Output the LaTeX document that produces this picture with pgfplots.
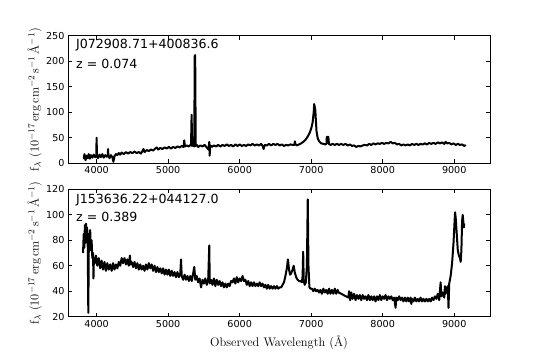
\documentclass[border=0pt]{standalone}
\usepackage{fontspec}
\usepackage{pgfplots}
\usepackage{pgfplotstable}
\pgfplotsset{compat=1.18}
\newfontfamily\dejavu{DejaVu Sans}

% J072908.71+400836.6, z = 0.074
\pgfplotstableread{
lam flux
3820 8
3830 18
3845 6
3860 15
3875 10
3890 18
3905 9
3920 16
3940 11
3960 17
3980 12
3995 14
4000 50
4005 14
4020 10
4040 17
4060 12
4080 18
4100 11
4120 16
4140 13
4155 15
4160 28
4165 14
4180 10
4200 16
4220 12
4235 3
4250 14
4270 18
4290 16
4310 20
4330 17
4350 21
4380 18
4410 22
4440 19
4470 22
4500 20
4530 23
4560 20
4590 22
4620 19
4640 24
4655 28
4670 22
4700 26
4730 24
4760 27
4790 25
4820 29
4840 31
4860 27
4890 30
4920 28
4950 31
4980 29
5010 32
5040 29
5070 32
5100 30
5130 33
5160 31
5190 34
5215 32
5225 45
5235 33
5260 35
5290 33
5310 36
5320 35
5328 95
5336 34
5350 36
5365 33
5372 210
5378 212
5386 34
5400 36
5420 32
5450 35
5480 33
5510 36
5540 31
5565 27
5575 42
5580 15
5590 35
5610 32
5640 35
5670 33
5700 36
5730 33
5760 36
5790 34
5820 37
5850 34
5880 36
5910 33
5940 37
5970 34
6000 37
6030 34
6060 36
6090 34
6120 37
6150 35
6180 38
6210 35
6240 37
6270 35
6300 38
6320 34
6335 28
6350 36
6380 35
6410 38
6440 35
6470 38
6500 36
6530 38
6560 35
6590 37
6620 34
6650 36
6680 35
6710 37
6740 36
6765 36
6772 43
6780 37
6800 35
6830 37
6860 39
6890 42
6920 46
6950 52
6980 60
7000 68
7020 80
7035 100
7042 116
7050 110
7058 104
7065 85
7075 62
7090 50
7110 43
7140 39
7170 38
7200 37
7215 39
7218 52
7240 52
7248 38
7270 36
7300 38
7330 36
7360 38
7390 36
7420 38
7450 36
7480 38
7510 35
7540 37
7570 34
7600 35
7630 32
7660 34
7690 33
7720 35
7750 36
7780 35
7810 38
7840 36
7870 39
7900 37
7930 39
7960 38
7990 40
8020 38
8050 40
8080 39
8110 42
8140 39
8170 40
8200 37
8230 38
8260 35
8290 37
8320 35
8350 37
8380 35
8410 38
8440 36
8470 38
8500 36
8530 38
8560 37
8590 39
8620 37
8650 40
8680 38
8710 40
8740 38
8770 41
8800 39
8830 41
8860 38
8880 42
8900 39
8930 40
8960 37
8990 39
9020 36
9050 38
9080 36
9110 37
9140 34
9160 36
}\topspec

% J153636.22+044127.0, z = 0.389
\pgfplotstableread{
lam flux
3810 70
3820 85
3828 74
3836 92
3844 78
3852 93
3860 80
3868 90
3876 76
3884 23
3892 85
3900 74
3910 88
3920 72
3930 80
3940 66
3950 70
3956 50
3962 66
3975 62
3990 68
4010 60
4030 66
4050 58
4070 64
4090 57
4110 63
4130 56
4150 62
4170 57
4190 61
4210 56
4230 62
4250 57
4270 61
4290 58
4310 63
4330 60
4350 66
4370 62
4390 66
4410 61
4430 65
4450 60
4465 68
4475 61
4490 63
4510 59
4530 63
4550 58
4570 62
4590 57
4610 61
4630 57
4650 60
4670 56
4690 61
4710 57
4730 62
4750 58
4770 61
4790 56
4810 60
4830 55
4850 59
4870 55
4890 58
4910 54
4930 58
4950 53
4970 57
4990 53
5010 57
5030 52
5050 56
5070 52
5090 55
5110 51
5130 55
5150 51
5170 54
5180 65
5190 52
5210 49
5230 53
5250 49
5270 52
5290 48
5310 52
5330 48
5350 54
5365 59
5380 49
5400 52
5420 47
5440 50
5460 43
5480 49
5500 46
5520 50
5540 45
5560 49
5575 76
5582 46
5600 49
5620 45
5640 50
5660 44
5680 49
5700 45
5720 48
5740 44
5760 47
5780 43
5800 46
5820 43
5840 46
5860 44
5880 48
5900 47
5920 50
5940 46
5960 51
5980 47
6000 50
6020 48
6040 52
6060 48
6080 49
6100 45
6120 48
6140 44
6160 47
6180 44
6200 47
6220 44
6240 46
6260 44
6280 47
6300 44
6320 46
6340 43
6360 45
6380 42
6400 45
6420 42
6440 44
6460 42
6480 44
6500 42
6520 44
6540 42
6560 43
6580 43
6600 45
6620 47
6640 52
6660 58
6675 65
6690 57
6705 53
6720 54
6740 57
6755 60
6770 55
6790 51
6810 49
6830 48
6850 48
6870 47
6880 52
6888 71
6896 48
6910 45
6925 47
6940 60
6952 112
6962 60
6975 43
6990 42
7010 42
7030 40
7050 42
7070 40
7090 41
7110 39
7130 41
7150 38
7170 42
7190 39
7210 41
7230 38
7250 42
7270 38
7290 41
7310 38
7330 42
7350 38
7370 41
7385 39
7520 35
7530 40
7545 33
7560 39
7580 34
7600 38
7620 33
7640 37
7660 34
7680 37
7700 33
7720 37
7740 34
7760 36
7780 33
7800 37
7820 33
7840 36
7860 33
7880 36
7900 32
7920 36
7940 33
7960 37
7980 33
8000 36
8020 34
8040 37
8060 33
8080 36
8100 34
8120 36
8140 33
8160 35
8180 27
8190 35
8210 33
8230 36
8250 33
8270 35
8290 32
8310 35
8330 32
8350 35
8370 32
8390 35
8400 30
8410 34
8430 32
8450 35
8470 32
8490 34
8510 32
8530 35
8550 32
8570 34
8590 32
8610 34
8630 32
8650 34
8670 32
8690 35
8710 33
8730 36
8750 34
8770 38
8790 33
8800 40
8810 47
8820 36
8840 39
8860 35
8870 44
8880 38
8895 42
8910 44
8920 27
8930 46
8950 52
8970 62
8990 78
9005 95
9012 102
9020 98
9035 85
9050 72
9065 68
9080 66
9090 63
9100 72
9110 95
9118 100
9125 96
9135 90
9140 93
}\botspec

\pgfplotsset{
  spec/.style={
    scale only axis,
    width=422pt,
    xmin=3600, xmax=9500,
    xtick={4000,5000,6000,7000,8000,9000},
    xticklabels={4000,5000,6000,7000,8000,9000},
    tick align=inside,
    major tick length=4pt,
    minor tick num=0,
    tick style={black, line width=0.6pt},
    axis line style={black, line width=0.8pt},
    ticklabel style={font=\dejavu\fontsize{9.6}{11}\selectfont},
    label style={font=\fontsize{12.4}{14}\selectfont},
    ylabel style={at={(axis description cs:-0.079,0.5)}, anchor=center},
    ylabel={f$_\lambda$ (10$^{-17}$\,erg\,cm$^{-2}$\,s$^{-1}$\,\AA$^{-1}$)},
  },
  specline/.style={black, line width=2pt, line join=round, no marks},
}

\begin{document}
\begin{tikzpicture}
\useasboundingbox (0,0) rectangle (545pt,363pt);

\begin{axis}[spec, name=top,
  at={(68pt,199.7pt)}, anchor=south west, height=127.6pt,
  ymin=0, ymax=250,
  ytick={0,50,100,150,200,250},
  yticklabels={0,50,100,150,200,250}]
  \addplot[specline] table[x=lam, y=flux] {\topspec};
  \node[anchor=base west, font=\dejavu\fontsize{12.6}{15}\selectfont, inner sep=0pt]
    at ([xshift=8pt,yshift=-13.3pt]rel axis cs:0,1) {J072908.71+400836.6};
  \node[anchor=base west, font=\dejavu\fontsize{12.6}{15}\selectfont, inner sep=0pt]
    at ([xshift=8pt,yshift=-32.6pt]rel axis cs:0,1) {z = 0.074};
\end{axis}

\begin{axis}[spec, name=bot,
  at={(68pt,46.3pt)}, anchor=south west, height=127.4pt,
  ymin=20, ymax=120,
  ytick={20,40,60,80,100,120},
  yticklabels={20,40,60,80,100,120},
  xlabel={Observed Wavelength (\AA)},
  xlabel style={at={(axis description cs:0.5,-0.2)}, anchor=center}]
  \addplot[specline] table[x=lam, y=flux] {\botspec};
  \node[anchor=base west, font=\dejavu\fontsize{12.6}{15}\selectfont, inner sep=0pt]
    at ([xshift=8pt,yshift=-13.8pt]rel axis cs:0,1) {J153636.22+044127.0};
  \node[anchor=base west, font=\dejavu\fontsize{12.6}{15}\selectfont, inner sep=0pt]
    at ([xshift=8pt,yshift=-32.7pt]rel axis cs:0,1) {z = 0.389};
\end{axis}
\end{tikzpicture}
\end{document}
